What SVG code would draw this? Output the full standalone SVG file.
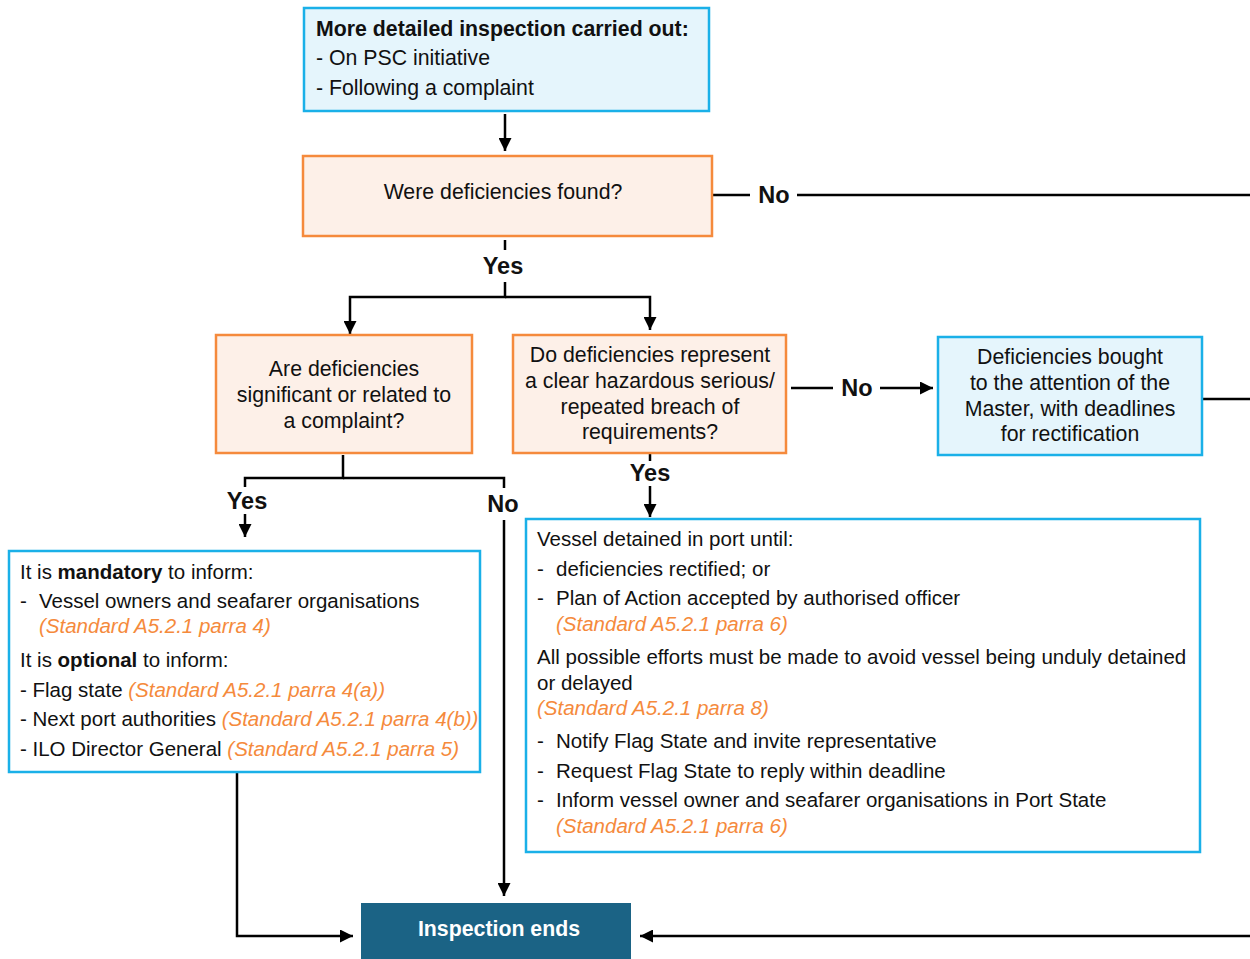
<svg xmlns="http://www.w3.org/2000/svg" width="1250" height="959" viewBox="0 0 1250 959">
  <defs>
    <style>
      text { font-family: "Liberation Sans", Arial, sans-serif; font-size: 21.3px; fill: #111; }
      .c { text-anchor: middle; }
      .b { font-weight: bold; }
      .sm { font-size: 20.5px; }
      .ref { fill: #f58a3c; font-style: italic; }
      .lbl { font-weight: bold; font-size: 23.5px; text-anchor: middle; }
      .info { fill: #e5f5fc; stroke: #1ab0e8; stroke-width: 2.5; }
      .ask { fill: #fdf0e8; stroke: #f58a3c; stroke-width: 2.5; }
      .note { fill: #ffffff; stroke: #1ab0e8; stroke-width: 2.5; }
      .end { fill: #1b6385; }
      .wire { fill: none; stroke: #000; stroke-width: 2.5; }
    </style>
    <marker id="arr" viewBox="0 0 10 10" refX="10" refY="5" markerWidth="6" markerHeight="5.2" markerUnits="strokeWidth" orient="auto">
      <path d="M0,0 L10,5 L0,10 z" fill="#000"/>
    </marker>
  </defs>

  <!-- connectors -->
  <g id="connectors">
    <path class="wire" d="M505,114 V151" marker-end="url(#arr)"/>
    <path class="wire" d="M713,195 H750"/>
    <path class="wire" d="M797,195 H1250"/>
    <path class="wire" d="M505,240 V250"/>
    <path class="wire" d="M505,282 V297 H350 V334" marker-end="url(#arr)"/>
    <path class="wire" d="M505,297 H650 V330" marker-end="url(#arr)"/>
    <path class="wire" d="M791,388 H833"/>
    <path class="wire" d="M880,388 H933" marker-end="url(#arr)"/>
    <path class="wire" d="M1203,399 H1250"/>
    <path class="wire" d="M343,455 V478 H245 V487"/>
    <path class="wire" d="M343,478 H504 V488"/>
    <path class="wire" d="M245,514 V537" marker-end="url(#arr)"/>
    <path class="wire" d="M504,520 V896" marker-end="url(#arr)"/>
    <path class="wire" d="M650,454 V461"/>
    <path class="wire" d="M650,486 V517" marker-end="url(#arr)"/>
    <path class="wire" d="M237,773 V936 H353" marker-end="url(#arr)"/>
    <path class="wire" d="M1250,936 H640" marker-end="url(#arr)"/>
  </g>

  <!-- connector labels -->
  <g id="labels">
    <text class="lbl" x="774" y="203">No</text>
    <text class="lbl" x="503" y="274">Yes</text>
    <text class="lbl" x="857" y="396">No</text>
    <text class="lbl" x="247" y="509">Yes</text>
    <text class="lbl" x="503" y="512">No</text>
    <text class="lbl" x="650" y="481">Yes</text>
  </g>

  <g id="start">
    <rect class="info" x="304" y="8" width="405" height="103"/>
    <text class="b" x="316" y="36">More detailed inspection carried out:</text>
    <text x="316" y="65">- On PSC initiative</text>
    <text x="316" y="95">- Following a complaint</text>
  </g>

  <g id="found">
    <rect class="ask" x="303" y="156" width="409" height="80"/>
    <text class="c" x="503" y="199">Were deficiencies found?</text>
  </g>

  <g id="significant">
    <rect class="ask" x="216" y="335" width="256" height="118"/>
    <text class="c" x="344" y="376">Are deficiencies</text>
    <text class="c" x="344" y="402">significant or related to</text>
    <text class="c" x="344" y="428">a complaint?</text>
  </g>

  <g id="hazard">
    <rect class="ask" x="513" y="335" width="273" height="118"/>
    <text class="c" x="650" y="362">Do deficiencies represent</text>
    <text class="c" x="650" y="388">a clear hazardous serious/</text>
    <text class="c" x="650" y="414">repeated breach of</text>
    <text class="c" x="650" y="439">requirements?</text>
  </g>

  <g id="master">
    <rect class="info" x="938" y="337" width="264" height="118"/>
    <text class="c" x="1070" y="364">Deficiencies bought</text>
    <text class="c" x="1070" y="390">to the attention of the</text>
    <text class="c" x="1070" y="416">Master, with deadlines</text>
    <text class="c" x="1070" y="441">for rectification</text>
  </g>

  <g id="inform" class="sm">
    <rect class="note" x="9" y="551" width="471" height="221"/>
    <text class="sm" x="20" y="579">It is <tspan class="b">mandatory</tspan> to inform:</text>
    <text class="sm" x="20" y="608">-</text>
    <text class="sm" x="39" y="608">Vessel owners and seafarer organisations</text>
    <text class="sm ref" x="39" y="633">(Standard A5.2.1 parra 4)</text>
    <text class="sm" x="20" y="667">It is <tspan class="b">optional</tspan> to inform:</text>
    <text class="sm" x="20" y="697">- Flag state <tspan class="ref">(Standard A5.2.1 parra 4(a))</tspan></text>
    <text class="sm" x="20" y="726">- Next port authorities <tspan class="ref">(Standard A5.2.1 parra 4(b))</tspan></text>
    <text class="sm" x="20" y="756">- ILO Director General <tspan class="ref">(Standard A5.2.1 parra 5)</tspan></text>
  </g>

  <g id="detained">
    <rect class="note" x="526" y="519" width="674" height="333"/>
    <text class="sm" x="537" y="546">Vessel detained in port until:</text>
    <text class="sm" x="537" y="576">-</text>
    <text class="sm" x="556" y="576">deficiencies rectified; or</text>
    <text class="sm" x="537" y="605">-</text>
    <text class="sm" x="556" y="605">Plan of Action accepted by authorised officer</text>
    <text class="sm ref" x="556" y="631">(Standard A5.2.1 parra 6)</text>
    <text class="sm" x="537" y="664">All possible efforts must be made to avoid vessel being unduly detained</text>
    <text class="sm" x="537" y="690">or delayed</text>
    <text class="sm ref" x="537" y="715">(Standard A5.2.1 parra 8)</text>
    <text class="sm" x="537" y="748">-</text>
    <text class="sm" x="556" y="748">Notify Flag State and invite representative</text>
    <text class="sm" x="537" y="778">-</text>
    <text class="sm" x="556" y="778">Request Flag State to reply within deadline</text>
    <text class="sm" x="537" y="807">-</text>
    <text class="sm" x="556" y="807">Inform vessel owner and seafarer organisations in Port State</text>
    <text class="sm ref" x="556" y="833">(Standard A5.2.1 parra 6)</text>
  </g>

  <g id="ends">
    <rect class="end" x="361" y="903" width="270" height="56"/>
    <text class="c b" x="499" y="936" style="fill:#ffffff">Inspection ends</text>
  </g>
</svg>
